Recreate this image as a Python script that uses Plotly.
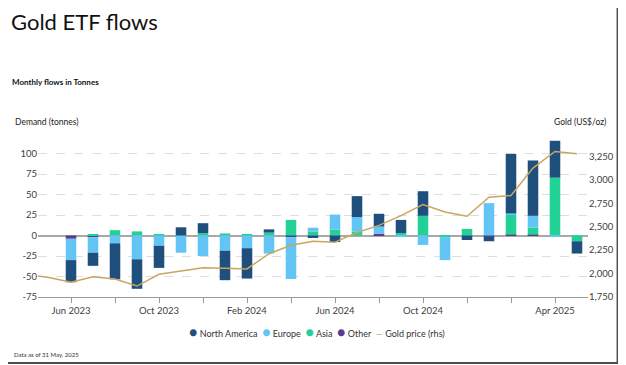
import plotly.graph_objects as go

# ---------------- data ----------------
months = ["Apr 2023", "May 2023", "Jun 2023", "Jul 2023", "Aug 2023", "Sep 2023", "Oct 2023",
          "Nov 2023", "Dec 2023", "Jan 2024", "Feb 2024", "Mar 2024", "Apr 2024", "May 2024",
          "Jun 2024", "Jul 2024", "Aug 2024", "Sep 2024", "Oct 2024", "Nov 2024", "Dec 2024",
          "Jan 2025", "Feb 2025", "Mar 2025", "Apr 2025", "May 2025"]

north_america = [None, None, -27, -16, -44, -36, -27, 10, 12, -36, -37, 4, 0, -3,
                 -8, 25.5, 15.5, 16, 30, 0, -5.5, -5.5, 72.5, 67.5, 45, -15]
europe = [None, None, -26, -19, -9.5, -29, -12.5, -21, -25, -18.5, -15.5, -22, -51, 4.5,
          18.5, 17.5, 9, -1.5, -11.5, -28, 0, 39.5, 2, 14.5, -1, 0]
asia = [None, None, 0, 1, 6.5, 5, 1.5, 0, 3, 2.5, 2, 3.5, 19, 5,
        7, 5, 0, 3, 24, -2, 8, 0, 24, 8.5, 70.5, -7]
other = [None, None, -4, -2, 0, 0, 0, 0, 0, 0, 0, 0, -2, 0,
         0, 0, 2, 0, 0, 0, 0, -1.5, 1, 1, 0, 0]
gold_price = [1990, 1958, 1907, 1967, 1942, 1867, 1992, 2031, 2063, 2057, 2050, 2212, 2303, 2345,
              2334, 2439, 2514, 2618, 2736, 2657, 2611, 2815, 2833, 3125, 3303, 3278]

x_tick_months = ["Jun 2023", "Aug 2023", "Oct 2023", "Dec 2023", "Feb 2024", "Apr 2024",
                 "Jun 2024", "Aug 2024", "Oct 2024", "Dec 2024", "Feb 2025", "Apr 2025"]
x_tick_labels = ["Jun 2023", "", "Oct 2023", "", "Feb 2024", "", "Jun 2024", "", "Oct 2024",
                 "", "", "Apr 2025"]

left_ticks = [-75, -50, -25, 0, 25, 50, 75, 100, 125]
left_labels = ["-75", "-50", "-25", "0", "25", "50", "75", "100", ""]
right_ticks = [1750, 2000, 2250, 2500, 2750, 3000, 3250, 3500]
right_labels = ["1,750", "2,000", "2,250", "2,500", "2,750", "3,000", "3,250", ""]

# ---------------- style ----------------
C_NA = "#1f4f7c"
C_EU = "#62c5f6"
C_AS = "#22d196"
C_OT = "#5a3c8c"
C_GOLD = "#c9a660"
FONT = "Lato, Roboto, sans-serif"

OFF = 8                      # page body margin in the browser
W, H = 626 - OFF, 365 - OFF  # figure size
ML, MR, MT, MB = 27, 33, 125, 68
PW, PH = W - ML - MR, H - MT - MB


def px(x):
    """screen x (window px) -> paper x"""
    return (x - OFF - ML) / PW


def py(y):
    """screen y (window px) -> paper y"""
    return (H - MB - (y - OFF)) / PH


fig = go.Figure()
for name, vals, col in [("Other", other, C_OT), ("Asia", asia, C_AS),
                        ("Europe", europe, C_EU), ("North America", north_america, C_NA)]:
    fig.add_trace(go.Bar(x=months, y=vals, name=name, marker=dict(color=col, line=dict(width=0)),
                         showlegend=False))

fig.add_trace(go.Scatter(x=months, y=gold_price, name="Gold price (rhs)", yaxis="y2",
                         mode="lines", line=dict(color=C_GOLD, width=1.5), showlegend=False))


def dot(c):
    return f"<span style='color:{c};font-size:14px'>●</span>"


legend_text = (f"{dot(C_NA)} North America  {dot(C_EU)} Europe  {dot(C_AS)} Asia  "
               f"{dot(C_OT)} Other  <span style='color:{C_GOLD}'>—</span> Gold price (rhs)")

annotations = [
    dict(text="Gold ETF flows", x=px(6), y=py(21), xanchor="left", yanchor="middle",
         font=dict(size=22, color="#111111", family=FONT, weight=400)),
    dict(text="<b>Monthly flows in Tonnes</b>", x=px(7), y=py(82), xanchor="left", yanchor="middle",
         font=dict(size=8, color="#111111", family=FONT)),
    dict(text="Demand (tonnes)", x=px(10), y=py(122), xanchor="left", yanchor="middle",
         font=dict(size=8.5, color="#222222", family=FONT)),
    dict(text="Gold (US$/oz)", x=px(613), y=py(122), xanchor="right", yanchor="middle",
         font=dict(size=8.5, color="#222222", family=FONT)),
    dict(text=legend_text, x=px(318), y=py(331), xanchor="center", yanchor="middle",
         font=dict(size=9, color="#333333", family=FONT)),
    dict(text="Data as of 31 May, 2025", x=px(9), y=py(354), xanchor="left", yanchor="middle",
         font=dict(size=6, color="#333333", family=FONT)),
]
for a in annotations:
    a.update(xref="paper", yref="paper", showarrow=False)

fig.update_layout(
    width=W, height=H,
    margin=dict(l=ML, r=MR, t=MT, b=MB),
    paper_bgcolor="white", plot_bgcolor="white",
    barmode="relative", bargap=0.52,
    font=dict(family=FONT, size=9.5, color="#404040"),
    showlegend=False,
    annotations=annotations,
    shapes=[dict(type="rect", xref="paper", yref="paper",
                 x0=px(-5), x1=px(623), y0=py(363), y1=py(-5),
                 line=dict(color="#4d4d4d", width=2), fillcolor="rgba(0,0,0,0)", layer="above")],
    xaxis=dict(type="category", categoryorder="array", categoryarray=months,
               range=[0.5, len(months) - 0.5],
               tickmode="array", tickvals=x_tick_months, ticktext=x_tick_labels,
               ticks="outside", ticklen=5, tickcolor="#9a9a9a",
               showline=True, linecolor="#9a9a9a", linewidth=1,
               showgrid=False, zeroline=False,
               tickfont=dict(size=9.5, color="#404040")),
    yaxis=dict(range=[-75, 125], tickmode="array", tickvals=left_ticks, ticktext=left_labels,
               showgrid=True, gridcolor="#dedede", griddash="dash", gridwidth=1,
               zeroline=True, zerolinecolor="#a8a8a8", zerolinewidth=1.5,
               ticks="", showline=False, tickfont=dict(size=9.5, color="#404040")),
    yaxis2=dict(range=[1750, 3500], overlaying="y", side="right", tickmode="array",
                tickvals=right_ticks, ticktext=right_labels, showgrid=False, zeroline=False,
                ticks="", showline=False, tickfont=dict(size=9.5, color="#404040")),
)

fig.write_html("out.html")
